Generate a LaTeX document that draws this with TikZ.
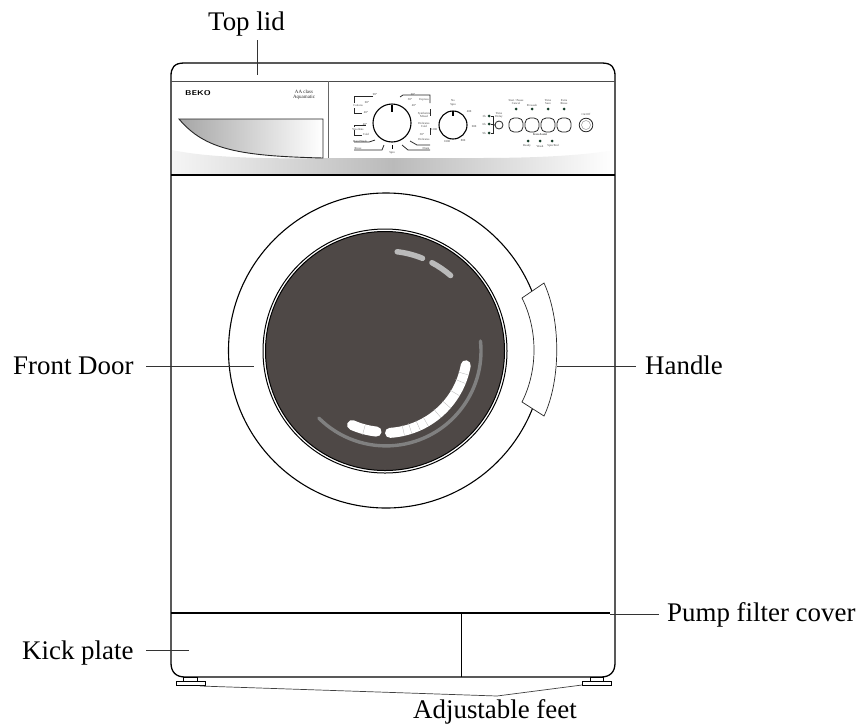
\documentclass[tikz,border=0pt]{standalone}
\usepackage{fontspec}
\setmainfont{Liberation Serif}
\definecolor{drum}{RGB}{78,72,70}
\definecolor{ledc}{RGB}{20,60,40}
\tikzset{
  lab/.style={font=\fontsize{26.9}{28}\selectfont,inner sep=0pt,anchor=base west},
  leader/.style={line width=0.9pt,draw=black!80},
  body/.style={line width=1.3pt,draw=black},
  tiny/.style={font=\fontsize{3}{3.4}\selectfont,inner sep=0pt,align=center,text=black!75},
  panelline/.style={line width=0.8pt,draw=black!85},
  led/.style={circle,fill=ledc,inner sep=0pt,minimum size=3pt},
  knob/.style={line width=0.8pt,draw=black!85,rounded corners=5pt},
  tick/.style={line width=0.3pt,draw=black!30},
}
\begin{document}
\begin{tikzpicture}[x=1pt,y=-1pt]
\useasboundingbox (0,0) rectangle (861,726);
% panel gradient
\shade[left color=black!4,right color=white,middle color=black!27] (172,150) .. controls (210,158) and (270,159) .. (330,158) -- (480,158) .. controls (530,158) and (580,156) .. (614,150) -- (614,174) -- (172,174) -- cycle;
% drawer
\shade[left color=black!35,right color=white] (179,119) .. controls (205,150) and (240,156) .. (323,158) -- (323,119) -- cycle;
\draw[line width=0.9pt,draw=black!85] (179,119) .. controls (205,150) and (240,156) .. (323,158) -- (323,119) -- cycle;
% body
\draw[body] (171,76) .. controls (171,68) and (174,63) .. (184,63) -- (602,63) .. controls (612,63) and (615,68) .. (615,76) -- (615,663) .. controls (615,672) and (610,677) .. (601,677) -- (185,677) .. controls (176,677) and (171,672) .. (171,663) -- cycle;
\draw[line width=0.9pt,draw=black!70] (171,81) -- (615,81);
\draw[body] (171,175) -- (615,175);
\draw[line width=0.9pt,draw=black!60] (328,81) -- (328,158);
\draw[line width=1.1pt] (171,613) -- (610,613);
\draw[line width=1pt] (461,613) -- (461,677);
% feet
\draw[line width=0.9pt] (183,677) rectangle (197,681) (176,681) rectangle (205,685);
\draw[line width=0.9pt] (590,677) rectangle (603,681) (582,681) rectangle (611,685);
% door
\draw[line width=1.1pt] (386,350.5) circle (157.5);
\draw[line width=1pt,fill=white] (385,351) circle (122);
\fill[drum] (385,351) circle (119.5);
\draw[line width=1pt,draw=black] (385,351) circle (119.5);
% reflections
\begin{scope}[shift={(385,351)}]
\draw[line width=3.4pt,draw=black!50,line cap=round] (-6:96) arc[start angle=-6,end angle=135,radius=95];
\draw[line width=10pt,draw=white,line cap=round] (10:82) arc[start angle=10,end angle=86.5,radius=82];
\draw[line width=10pt,draw=white,line cap=round] (96:81) arc[start angle=96,end angle=114,radius=81];
\foreach \a in {16,22,31,41,50,60,66,72,77,105}{\draw[tick] (\a:76) -- (\a:87);}
\draw[line width=5.5pt,draw=black!27,line cap=round] (-83:100) arc[start angle=-83,end angle=-68,radius=100];
\draw[line width=5.5pt,draw=black!27,line cap=round] (-62:100) arc[start angle=-62,end angle=-49,radius=100];
\end{scope}
% handle
\draw[line width=0.7pt,draw=black!85,fill=white] (522,298) .. controls (538,330) and (538,370) .. (522,402) -- (544,416) .. controls (561,380) and (561,320) .. (544,283) -- cycle;
% panel: brand
\node[inner sep=0pt,font=\fontsize{7}{7}\sffamily\bfseries,xscale=1.25] (beko) at (198,93.5) {BEKO};
\node[inner sep=0pt,font=\fontsize{5}{5.5}\selectfont,align=center,text=black!85] (aa) at (304,95) {AA class\\Aquamatic};
% programme dial
\draw[line width=1.1pt] (392,123) circle (19);
\draw[line width=1.6pt] (392,104.5) -- (392,112);
\draw[panelline] (373,96) -- (354,96) -- (354,103) (354,108) -- (354,113) -- (362,113);
\draw[panelline] (354,127) -- (354,125) -- (366,125) (354,130) -- (354,135) -- (362,135);
\draw[panelline] (354,142) -- (369,142) -- (375,140);
\draw[panelline] (354,150) -- (382,150) -- (384,145);
\draw[panelline] (400,97) -- (403,95) -- (430,95) -- (430,103);
\draw[panelline] (430,109) -- (430,116);
\draw[panelline] (430,128) -- (430,135);
\draw[panelline] (410,141) -- (417,145) -- (430,145);
\draw[panelline] (402,145) -- (408,150) -- (430,150);
\draw[line width=0.8pt] (392,145) -- (392,149);
\node[tiny] (p1) at (375,94.5) {90°};
\node[tiny] (p2) at (367,103) {60°};
\node[tiny] (p3) at (358,106) {Cottons};
\node[tiny] (p4) at (366,113) {40°};
\node[tiny] (p5) at (365,125) {40°};
\node[tiny] (p6) at (358,129) {Woollens};
\node[tiny] (p7) at (366,134.5) {Cold};
\node[tiny] (p8) at (360,141) {Hand Wash};
\node[tiny] (p9) at (358,149) {Rinse};
\node[tiny] (p10) at (392,153) {Spin};
\node[tiny] (p11) at (426,149) {Drain};
\node[tiny] (p12) at (413,95) {60°};
\node[tiny] (p13) at (424,100) {Express};
\node[tiny] (p14) at (410,100) {30°};
\node[tiny] (p15) at (414,106) {40°};
\node[tiny] (p16) at (424,115) {Synthetics\\Mixed};
\node[tiny] (p17) at (424,125) {Delicates\\Cold};
\node[tiny] (p18) at (422,135) {30°};
\node[tiny] (p19) at (424,139) {Delicates};
% spin dial
\draw[line width=1.1pt] (453,125) circle (14);
\draw[line width=1.5pt] (453,111) -- (453,116);
\node[tiny] (s0) at (453,103) {No\\Spin};
\node[tiny] (s1) at (469,112) {400};
\node[tiny] (s2) at (474,127) {600};
\node[tiny] (s3) at (463,141) {800};
\node[tiny] (s4) at (447,142) {1000};
\node[tiny] (s5) at (434,130) {1200};
% delay
\node[led] (l1) at (489,116) {};
\node[led] (l2) at (489,124) {};
\node[led] (l3) at (489,133) {};
\node[tiny] (d1) at (484,116) {3h};
\node[tiny] (d2) at (484,124) {6h};
\node[tiny] (d3) at (484,133) {9h};
\draw[panelline] (l1) -- (493,116) -- (493,133) -- (l3);
\draw[panelline] (l2) -- (495,125);
\draw[panelline] (499,125) circle (4);
\node[tiny] (d4) at (499,115.5) {Time\\Delay};
% buttons
\foreach \cx/\nm/\txt/\ty in {516/a/{Start / Pause\\Cancel}/102,532/b/{Prewash}/105,548/c/{Time\\Save}/102,564/d/{Extra\\Rinse}/102}{
  \draw[knob] (\cx-7,118) rectangle (\cx+7,132);
  \node[led] (led\nm) at (\cx,109) {};
  \node[tiny] (txt\nm) at (\cx,\ty) {\txt};
}
\draw[panelline] (586,125) circle (6.8);
\draw[line width=0.5pt,draw=black!40] (586,125) circle (4.5);
\node[tiny] (onoff) at (586,114) {On/Off};
\node[tiny,font=\fontsize{3}{3.4}\selectfont\bfseries] (iron) at (540,134.5) {Iron Assist};
\node[led] (r1) at (528,141) {};
\node[led] (r2) at (540,141) {};
\node[led] (r3) at (552,141) {};
\node[tiny] (r1t) at (527,146) {Ready};
\node[tiny] (r2t) at (540,146) {Wash};
\node[tiny] (r3t) at (553,146) {Spin/End};
% labels and leaders
\node[lab] (toplid) at (208,30) {Top lid};
\node[lab] (frontdoor) at (13,374) {Front Door};
\node[lab] (handle) at (645,374) {Handle};
\node[lab] (pump) at (667,621) {Pump filter cover};
\node[lab] (kick) at (22,659) {Kick plate};
\node[lab] (feet) at (413,718) {Adjustable feet};
\coordinate (c1) at (257,40);
\coordinate (c2) at (257,75);
\coordinate (c3) at (146,366);
\coordinate (c4) at (254,366);
\coordinate (c5) at (557,366);
\coordinate (c6) at (636,366);
\coordinate (c7) at (610,614);
\coordinate (c8) at (659,614);
\coordinate (c9) at (146,650);
\coordinate (c10) at (189,650);
\coordinate (c11) at (200,686);
\coordinate (c12) at (497,696);
\coordinate (c13) at (582,685);
\draw[leader] (c1) -- (c2);
\draw[leader] (c3) -- (c4);
\draw[leader] (c5) -- (c6);
\draw[leader] (c7) -- (c8);
\draw[leader] (c9) -- (c10);
\draw[line width=0.7pt,draw=black!75] (c11) -- (c12) -- (c13);
\end{tikzpicture}
\end{document}
